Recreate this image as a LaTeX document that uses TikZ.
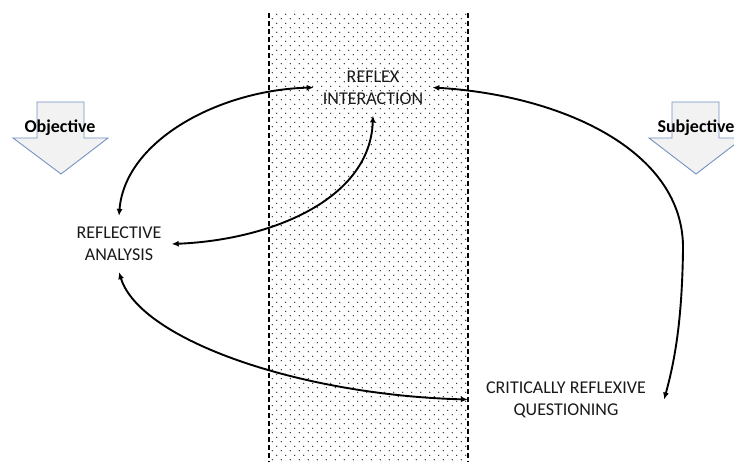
\documentclass[tikz,border=0pt]{standalone}
\usepackage{fontspec}
\setmainfont{Carlito}
\usetikzlibrary{arrows.meta,patterns}

% sparse staggered dots for the shaded band
\pgfdeclarepatternformonly{bandDots}{\pgfqpoint{-1pt}{-1pt}}{\pgfqpoint{10pt}{10pt}}{\pgfqpoint{9pt}{9pt}}{%
  \pgfpathcircle{\pgfqpoint{2.25pt}{2.25pt}}{0.65pt}%
  \pgfpathcircle{\pgfqpoint{6.75pt}{6.75pt}}{0.65pt}%
  \pgfusepath{fill}}

\definecolor{arrowfill}{RGB}{242,242,242}
\definecolor{arrowedge}{RGB}{114,147,196}
\definecolor{termgray}{RGB}{25,25,25}

\tikzset{
  term/.style={font=\fontsize{18}{22}\selectfont, text=termgray, align=center, inner xsep=10pt, inner ysep=11pt},
  sidetag/.style={font=\fontsize{18}{22}\selectfont\bfseries, text=black, inner sep=0pt},
  link/.style={line width=1.9pt, {Latex[length=7pt,width=6pt]}-{Latex[length=7pt,width=6pt]}},
  bandedge/.style={line width=2pt, dash pattern=on 5pt off 3pt},
  blockarrow/.style={fill=arrowfill, draw=arrowedge, line width=0.9pt, line join=miter}
}

\begin{document}
\begin{tikzpicture}[x=1pt,y=-1pt]
\useasboundingbox (0,0) rectangle (734,462);
\clip (0,0) rectangle (734,462);

% shaded middle band with dashed borders
\fill[pattern=bandDots] (269,13) rectangle (468,462);
\draw[bandedge] (269,13) -- (269,462);
\draw[bandedge] (468,13) -- (468,462);

% downward block arrows
\draw[blockarrow] (37,102) -- (84,102) -- (84,138) -- (108,138) -- (61,174) -- (13,138) -- (37,138) -- cycle;
\draw[blockarrow] (672,102) -- (719,102) -- (719,138) -- (743,138) -- (696,174) -- (649,138) -- (672,138) -- cycle;
\node[sidetag] (obj) at (60,128) {Objective};
\node[sidetag] (subj) at (696,128) {Subjective};

% concepts
\node[term, inner xsep=9pt] (ri) at (373,87.5) {REFLEX\\INTERACTION};
\node[term] (ra) at (119,244) {REFLECTIVE\\ANALYSIS};
\node[term, inner xsep=18pt] (crq) at (566,399.5) {CRITICALLY REFLEXIVE\\QUESTIONING};

% links between concepts
\coordinate (bend) at (683,250);
\draw[link] (ra.north) .. controls (125,140) and (220,90) .. (ri.west);
\draw[link] (ri.south) .. controls (370,200) and (270,240) .. (ra.east);
\draw[link] (ri.east) .. controls (560,95) and (685,150) .. (bend) .. controls (682,320) and (675,360) .. (crq.east);
\draw[link] (ra.south) .. controls (140,340) and (300,395) .. (crq.west);
\end{tikzpicture}
\end{document}
